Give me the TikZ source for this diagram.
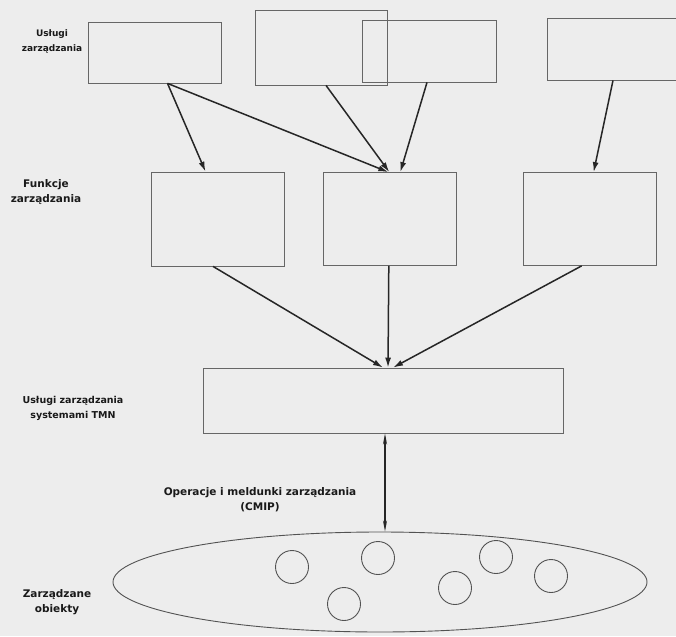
\documentclass[tikz,border=0pt]{standalone}
\usepackage{fontspec}
\setsansfont{DejaVu Sans}
\usetikzlibrary{positioning}
\usetikzlibrary{shapes.geometric}
\usetikzlibrary{arrows.meta}
\definecolor{papier}{gray}{0.93}
\definecolor{ramka}{gray}{0.4}
\definecolor{linia}{gray}{0.15}

\begin{document}
\begin{tikzpicture}[x=1pt, y=-1pt,
    blok/.style = {draw=ramka, line width=0.8pt, minimum width=133pt, minimum height=62pt, inner sep=0pt},
    obiekt/.style = {draw=ramka!80!black, line width=0.9pt, circle, minimum size=33pt, inner sep=0pt},
    strz/.style = {draw=linia, line width=1.5pt, -{Latex[length=10pt, width=6pt]}},
    opis/.style = {align=center, text=black!90, font=\sffamily\bfseries\fontsize{#1}{15}\selectfont},
    opis/.default = 10.5]
    \fill[papier] (0,0) rectangle (676,636);
    \useasboundingbox (0,0) rectangle (676,636);

    % uslugi zarzadzania
    \node[blok, minimum height=61pt] (usl1) at (154.5,52.5) {};
    \node[blok, minimum width=132pt, minimum height=75pt] (usl2) at (321,47.5) {};
    \node[blok, minimum width=134pt] (usl3) at (429,51) {};
    \node[blok, minimum width=143pt] (usl4) at (618.5,49) {};

    % funkcje zarzadzania
    \node[blok, minimum height=94pt] (fun1) at (217.5,219) {};
    \node[blok, minimum height=93pt, right=39pt of fun1] (fun2) {};
    \node[blok, minimum height=93pt, right=66pt of fun2] (fun3) {};

    \node[blok, minimum width=360pt, minimum height=65pt] (sys) at (383,400.5) {};
    \node[draw=ramka!80!black, line width=0.9pt, ellipse, minimum width=534pt, minimum height=100pt, inner sep=0pt] (obj) at (380,582) {};

    \node[obiekt] (ob1) at (292,567) {};
    \node[obiekt] (ob2) at (344,604) {};
    \node[obiekt] (ob3) at (378,558) {};
    \node[obiekt] (ob4) at (455,588) {};
    \node[obiekt] (ob5) at (496,557) {};
    \node[obiekt] (ob6) at (551,576) {};

    \node[opis=9] (lUsl) at (52,41) {Usługi\\zarządzania};
    \node[opis] (lFun) at (46,192) {Funkcje\\zarządzania};
    \node[opis=9.5] (lSys) at (73,408) {Usługi zarządzania\\systemami TMN};
    \node[opis] (lCmip) at (260,500) {Operacje i meldunki zarządzania\\(CMIP)};
    \node[opis] (lObj) at (57,602) {Zarządzane\\obiekty};

    \draw[strz] ([xshift=13pt]usl1.south) -- ([xshift=-12pt]fun1.north);
    \draw[strz] ([xshift=13pt]usl1.south) -- ([xshift=-2pt]fun2.north);
    \draw[strz] ([xshift=5pt]usl2.south) -- ([xshift=-1pt]fun2.north);
    \draw[strz] ([xshift=-2pt]usl3.south) -- ([xshift=10pt]fun2.north);
    \draw[strz] ([xshift=-5.5pt]usl4.south) -- ([xshift=3.5pt]fun3.north);

    \draw[strz] ([xshift=-4.5pt]fun1.south) -- (sys.north);
    \draw[strz] ([xshift=-1.5pt]fun2.south) -- ([xshift=5pt]sys.north);
    \draw[strz] ([xshift=-8.5pt]fun3.south) -- ([xshift=10pt]sys.north);

    % wymiana CMIP
    \draw[draw=linia, line width=1.5pt, {Stealth[length=11pt, width=4pt]}-{Stealth[length=11pt, width=4pt]}] ([xshift=2pt]sys.south) -- ([xshift=5pt]obj.north);
\end{tikzpicture}
\end{document}
